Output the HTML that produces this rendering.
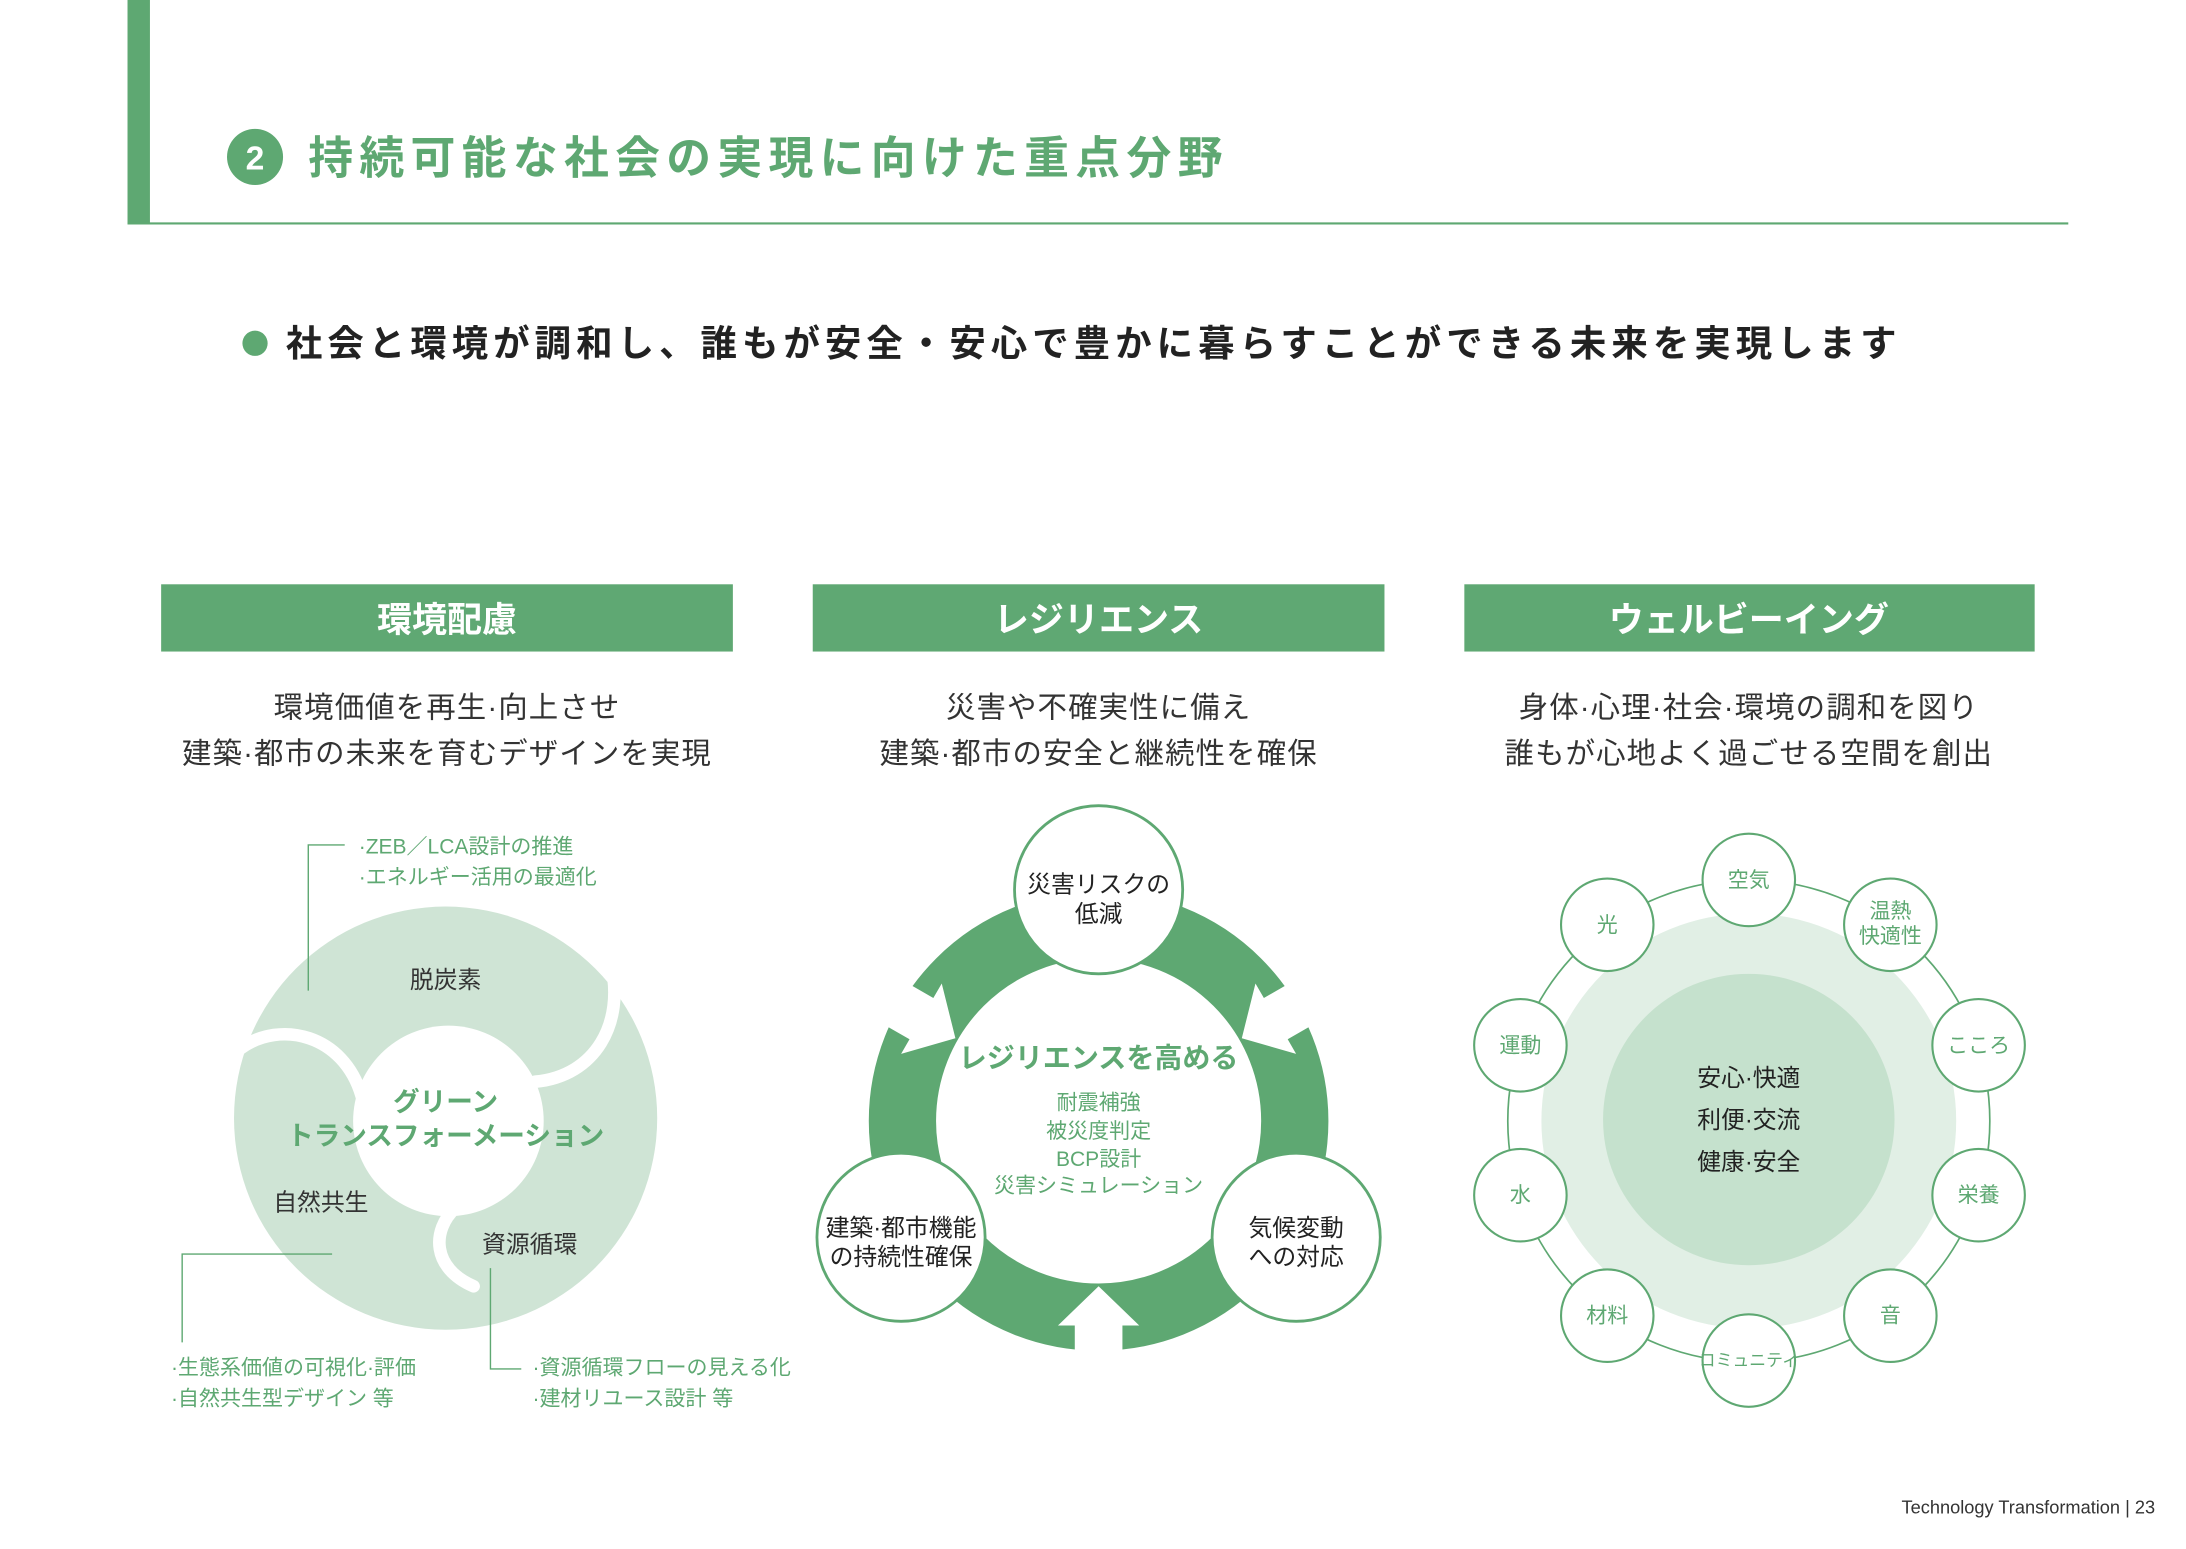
<!DOCTYPE html>
<html><head><meta charset="utf-8"><style>
html,body{margin:0;padding:0;background:#fff;}
svg{display:block;}
text{font-family:"Liberation Sans","Noto Sans CJK JP",sans-serif;}
</style></head><body>
<svg width="2186" height="1549" viewBox="0 0 1560 1105.5" preserveAspectRatio="none" xmlns="http://www.w3.org/2000/svg">
<rect x="91" y="0" width="16" height="160" fill="#5ea872"/>
<line x1="91" y1="159.5" x2="1476" y2="159.5" stroke="#5ea872" stroke-width="1.5"/>
<circle cx="182" cy="112" r="20" fill="#5ea872"/>
<text x="182" y="121" font-size="24" font-weight="bold" fill="#fff" text-anchor="middle">2</text>
<text x="220" y="124" font-size="32" font-weight="bold" fill="#5ea872" letter-spacing="4.5">持続可能な社会の実現に向けた重点分野</text>
<circle cx="182" cy="245" r="9" fill="#5ea872"/>
<text x="204" y="254" font-size="26" font-weight="bold" fill="#222" letter-spacing="3.6">社会と環境が調和し、誰もが安全・安心で豊かに暮らすことができる未来を実現します</text>

<rect x="115" y="417" width="408" height="48" fill="#5fa873"/>
<rect x="580" y="417" width="408" height="48" fill="#5fa873"/>
<rect x="1045" y="417" width="407" height="48" fill="#5fa873"/>
<g font-size="25" font-weight="bold" fill="#fff" text-anchor="middle">
<text x="319" y="451">環境配慮</text><text x="784" y="451">レジリエンス</text><text x="1248" y="451">ウェルビーイング</text></g>
<g font-size="21" fill="#333" text-anchor="middle" letter-spacing="0.8">
<text x="319" y="512">環境価値を再生·向上させ</text><text x="319" y="545">建築·都市の未来を育むデザインを実現</text>
<text x="784" y="512">災害や不確実性に備え</text><text x="784" y="545">建築·都市の安全と継続性を確保</text>
<text x="1248" y="512">身体·心理·社会·環境の調和を図り</text><text x="1248" y="545">誰もが心地よく過ごせる空間を創出</text></g>

<!-- left swirl -->
<circle cx="318" cy="798" r="151" fill="#cfe4d5"/>
<circle cx="320" cy="800" r="68" fill="#fff"/>
<g fill="none" stroke="#fff" stroke-width="9" stroke-linecap="round">
<path d="M258,782 C245,738 200,728 172,748"/>
<path d="M382,772 C425,768 446,730 436,688"/>
<path d="M325,862 C308,878 308,905 338,918"/>
</g>
<g stroke="#5ea872" stroke-width="1" fill="none">
<polyline points="246,603 220,603 220,707"/>
<polyline points="237,895 130,895 130,958"/>
<polyline points="350,905 350,977 372,977"/>
</g>
<g font-size="15" fill="#5ea872">
<text x="256" y="609">·ZEB／LCA設計の推進</text><text x="256" y="631">·エネルギー活用の最適化</text>
<text x="122" y="981">·生態系価値の可視化·評価</text><text x="122" y="1003">·自然共生型デザイン 等</text>
<text x="380" y="981">·資源循環フローの見える化</text><text x="380" y="1003">·建材リユース設計 等</text>
</g>
<g font-size="17" fill="#333" text-anchor="middle">
<text x="318" y="705">脱炭素</text><text x="229" y="864">自然共生</text><text x="378" y="894">資源循環</text></g>
<g font-size="19" font-weight="bold" fill="#5ea872" text-anchor="middle">
<text x="318" y="793">グリーン</text><text x="318" y="817">トランスフォーメーション</text></g>

<!-- middle -->
<circle cx="784" cy="800" r="140" fill="none" stroke="#5ea872" stroke-width="48"/>
<g id="arr" fill="#fff"><polygon points="784,918 813,946 801,946 801,968 767,968 767,946 755,946"/></g>
<use href="#arr" transform="rotate(120 784 800)"/>
<use href="#arr" transform="rotate(240 784 800)"/>
<g fill="#fff" stroke="#5ea872" stroke-width="2">
<circle cx="784" cy="635" r="60"/><circle cx="643" cy="883" r="60"/><circle cx="925" cy="883" r="60"/></g>
<g font-size="17" fill="#222" text-anchor="middle">
<text x="784" y="637">災害リスクの</text><text x="784" y="658">低減</text>
<text x="643" y="882">建築·都市機能</text><text x="643" y="903">の持続性確保</text>
<text x="925" y="882">気候変動</text><text x="925" y="903">への対応</text></g>
<text x="784" y="762" font-size="20" font-weight="bold" fill="#5ea872" text-anchor="middle">レジリエンスを高める</text>
<g font-size="15" fill="#5ea872" text-anchor="middle">
<text x="784" y="792">耐震補強</text><text x="784" y="812">被災度判定</text><text x="784" y="832">BCP設計</text><text x="784" y="851">災害シミュレーション</text></g>

<!-- right -->
<circle cx="1248" cy="800" r="148" fill="#e1efe5"/>
<circle cx="1248" cy="799" r="104" fill="#c5e1cd"/>
<circle cx="1248" cy="800" r="172" fill="none" stroke="#5ea872" stroke-width="1.2"/>
<g fill="#fff" stroke="#5ea872" stroke-width="1.5">
<circle cx="1248" cy="628" r="33"/><circle cx="1349" cy="660" r="33"/><circle cx="1412" cy="746" r="33"/>
<circle cx="1412" cy="853" r="33"/><circle cx="1349" cy="939" r="33"/><circle cx="1248" cy="971" r="33"/>
<circle cx="1147" cy="939" r="33"/><circle cx="1085" cy="853" r="33"/><circle cx="1085" cy="746" r="33"/>
<circle cx="1147" cy="660" r="33"/></g>
<g font-size="15" fill="#5ea872" text-anchor="middle">
<text x="1248" y="633">空気</text><text x="1349" y="655">温熱</text><text x="1349" y="673">快適性</text>
<text x="1412" y="751">こころ</text><text x="1412" y="858">栄養</text><text x="1349" y="944">音</text>
<text x="1248" y="975" font-size="12">コミュニティ</text><text x="1147" y="944">材料</text><text x="1085" y="858">水</text>
<text x="1085" y="751">運動</text><text x="1147" y="665">光</text></g>
<g font-size="17" fill="#222" text-anchor="middle">
<text x="1248" y="775">安心·快適</text><text x="1248" y="805">利便·交流</text><text x="1248" y="835">健康·安全</text></g>

<text x="1538" y="1080" font-size="13" fill="#333" text-anchor="end">Technology Transformation | 23</text>
</svg>
</body></html>
